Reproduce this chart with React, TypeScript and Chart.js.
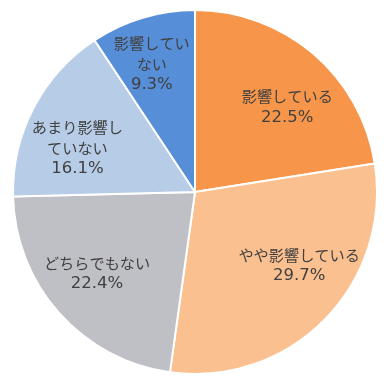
import React, { useEffect, useRef } from "react";
import { Chart, registerables } from "chart.js";

Chart.register(...registerables);

const categories = ["影響している", "やや影響している", "どちらでもない", "あまり影響していない", "影響していない"];
const labelLines = [["影響している"], ["やや影響している"], ["どちらでもない"], ["あまり影響し", "ていない"], ["影響してい", "ない"]];
const values = [22.5, 29.7, 22.4, 16.1, 9.3];
const colors = ["#F7964A", "#FAC090", "#BFBFC6", "#B7CCE6", "#578ED8"];
// label placement: fraction of radius, angle offset (degrees) from slice middle
const labelRadius = [0.69, 0.7, 0.7, 0.69, 0.742];
const labelAngleOffset = [6.8, -9.3, 2, -7, -1.9];

const labelPlugin = {
  id: "sliceLabels",
  afterDatasetsDraw(chart: any) {
    const ctx = chart.ctx;
    const meta = chart.getDatasetMeta(0);
    ctx.save();
    ctx.fillStyle = "#404040";
    ctx.textAlign = "center";
    ctx.textBaseline = "middle";
    meta.data.forEach((arc: any, i: number) => {
      const p = arc.getProps(["x", "y", "startAngle", "endAngle", "outerRadius"], true);
      const mid = (p.startAngle + p.endAngle) / 2 + (labelAngleOffset[i] * Math.PI) / 180;
      const r = p.outerRadius * labelRadius[i];
      const cx = p.x + Math.cos(mid) * r;
      const cy = p.y + Math.sin(mid) * r;
      const lines = [...labelLines[i], values[i].toFixed(1) + "%"];
      const lh = 21;
      const top = cy - ((lines.length - 1) * lh) / 2;
      lines.forEach((t, k) => {
        const isPct = k === lines.length - 1;
        ctx.font = isPct
          ? '16.5px "DejaVu Sans", "Noto Sans CJK JP", sans-serif'
          : '15.2px "Noto Sans CJK JP", "Noto Sans", sans-serif';
        ctx.fillText(t, cx, top + k * lh);
      });
    });
    ctx.restore();
  },
};

export default function App() {
  const ref = useRef<HTMLCanvasElement>(null);
  useEffect(() => {
    if (!ref.current) return;
    const chart = new Chart(ref.current, {
      type: "pie",
      data: {
        labels: categories,
        datasets: [
          {
            data: values,
            backgroundColor: colors,
            borderColor: "#ffffff",
            borderWidth: 2,
          },
        ],
      },
      options: {
        responsive: false,
        animation: false,
        layout: { padding: { top: 9, bottom: 3, left: 2, right: 0 } },
        plugins: { legend: { display: false }, tooltip: { enabled: false } },
      },
      plugins: [labelPlugin],
    });
    return () => chart.destroy();
  }, []);
  return (
    <div style={{ position: "fixed", left: 0, top: 0, width: 388, height: 378, background: "#fff" }}>
      <canvas ref={ref} width={388} height={378} />
    </div>
  );
}
